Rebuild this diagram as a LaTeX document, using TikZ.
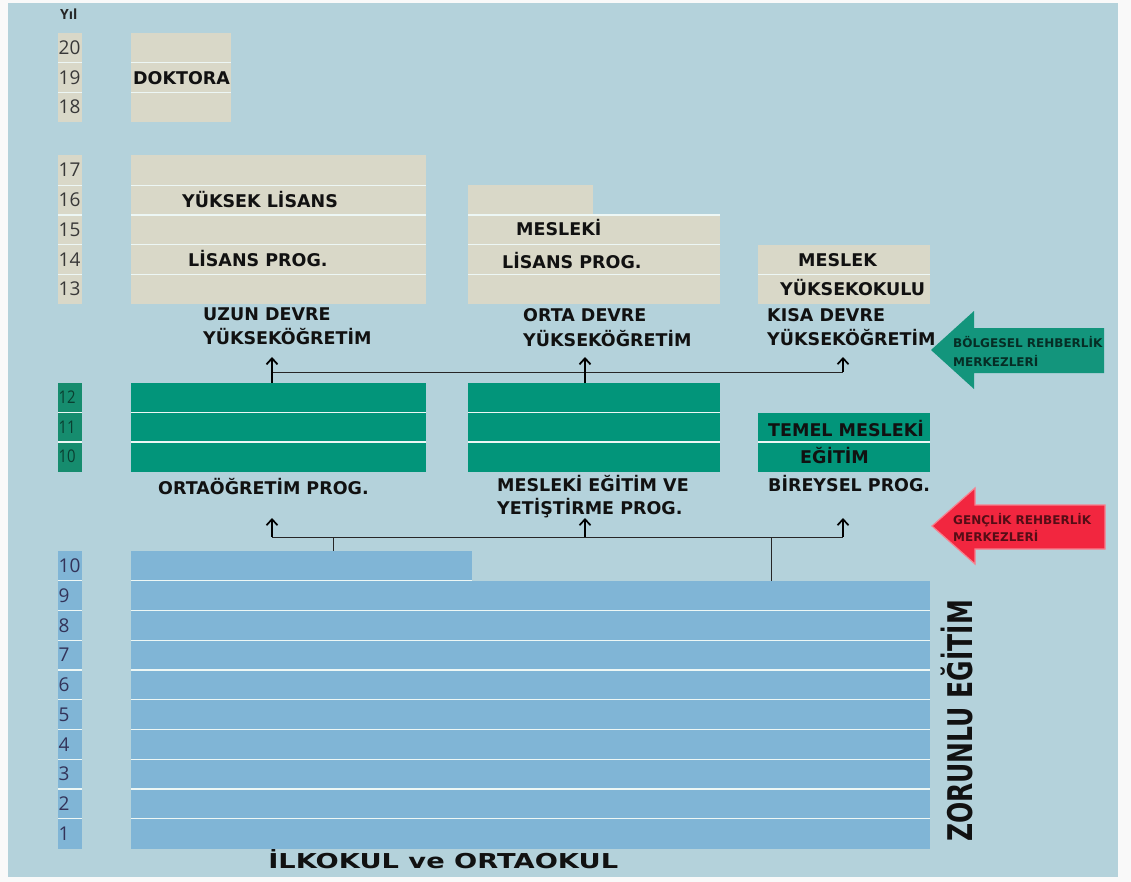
\documentclass[tikz,border=0pt]{standalone}
\usepackage{fontspec}
\setmainfont{DejaVu Sans}
\newfontfamily\yearfont{Open Sans}
\usetikzlibrary{arrows.meta,calc}
\definecolor{bgc}{HTML}{B4D2DB}
\definecolor{beige}{HTML}{D9D8C8}
\definecolor{grn}{HTML}{02957A}
\definecolor{grnyear}{HTML}{168C6E}
\definecolor{blu}{HTML}{80B5D6}
\definecolor{sepc}{HTML}{EDF7F5}
\definecolor{arrg}{HTML}{13957C}
\definecolor{arrr}{HTML}{F2263F}
\definecolor{arrrglow}{HTML}{F7808E}
\definecolor{txt}{HTML}{111111}
\tikzset{
  box/.style={inner sep=0pt, outer sep=0pt, anchor=north west},
  sepline/.style={draw=sepc, line width=1.3pt},
  lbl/.style={inner sep=0pt, anchor=west, text=txt, text height=12.8pt, text depth=0pt,
    font=\bfseries\fontsize{17.5}{17.5}\selectfont},
  small/.style={inner sep=0pt, anchor=west, text height=8.8pt, text depth=0pt,
    font=\bfseries\fontsize{12}{12}\selectfont},
  yr/.style={inner sep=0pt, anchor=west, text height=13.6pt, text depth=0pt, text=black!78,
    font=\yearfont\fontsize{19}{19}\selectfont},
  yrg/.style={inner sep=0pt, anchor=west, text height=12.5pt, text depth=0pt, text=grnyear!45!black,
    font=\yearfont\fontsize{17.5}{17.5}\selectfont},
  yrb/.style={inner sep=0pt, anchor=west, text height=13.6pt, text depth=0pt, text=black!75!blue!60!gray,
    font=\yearfont\fontsize{19}{19}\selectfont},
  thickarr/.style={line width=2.6pt, -{Straight Barb[length=6pt,width=11pt,line width=1.8pt]}},
  thinarr/.style={line width=1.4pt, -{Straight Barb[length=6pt,width=11pt,line width=1.7pt]}},
  conn/.style={line width=1pt, draw=black!85},
}
\begin{document}
\begin{tikzpicture}[x=1pt,y=-1pt]
\useasboundingbox (0,0) rectangle (1131,882);
\fill[white!95!gray] (0,0) rectangle (1131,882);
\fill[bgc] (8,3) rectangle (1118,877);

% ---------- year column ----------
\node[font=\yearfont\bfseries\fontsize{14}{14}\selectfont, text=black!85, inner sep=0pt, anchor=west] (yil) at (60,14) {Yıl};
\node[box, fill=beige, minimum width=24pt, minimum height=89pt] (yA) at (58,33) {};
\node[box, fill=beige, minimum width=24pt, minimum height=148.5pt] (yB) at (58,155.5) {};
\node[box, fill=grnyear, minimum width=24pt, minimum height=88.5pt] (yC) at (58,383) {};
\node[box, fill=blu, minimum width=24pt, minimum height=297.5pt] (yD) at (58,551) {};

% ---------- upper boxes ----------
\node[box, fill=beige, minimum width=100pt, minimum height=89pt] (dok) at (131,33) {};
\node[box, fill=beige, minimum width=295pt, minimum height=148.5pt] (yl) at (131,155.5) {};
\node[box, fill=beige, minimum width=125pt, minimum height=30pt] (mlTop) at (468,184.9) {};
\node[box, fill=beige, minimum width=252pt, minimum height=89.1pt] (ml) at (468,214.9) {};
\node[box, fill=beige, minimum width=172pt, minimum height=59.4pt] (myo) at (758,244.6) {};

% ---------- green boxes ----------
\node[box, fill=grn, minimum width=295pt, minimum height=88.5pt] (orta) at (131,383) {};
\node[box, fill=grn, minimum width=252pt, minimum height=88.5pt] (mesl) at (468,383) {};
\node[box, fill=grn, minimum width=172pt, minimum height=59pt] (temel) at (758,412.5) {};

% ---------- blue boxes ----------
\node[box, fill=blu, minimum width=341pt, minimum height=29.75pt] (b10) at (131,551) {};
\node[box, fill=blu, minimum width=799pt, minimum height=267.75pt] (b91) at (131,580.75) {};

% ---------- separators ----------
\foreach \y in {62.7,92.3} {
  \draw[sepline] (58,\y) -- (82,\y);
  \draw[sepline] (131,\y) -- (231,\y);
}
\foreach \y in {185.2,214.9,244.6,274.3} {
  \draw[sepline] (58,\y) -- (82,\y);
  \draw[sepline] (131,\y) -- (426,\y);
}
\draw[sepline] (468,214.9) -- (720,214.9);
\draw[sepline] (468,244.6) -- (720,244.6);
\draw[sepline] (468,274.3) -- (720,274.3);
\draw[sepline] (758,274.3) -- (930,274.3);
\foreach \y in {412.5,442} {
  \draw[sepline] (58,\y) -- (82,\y);
  \draw[sepline] (131,\y) -- (426,\y);
  \draw[sepline] (468,\y) -- (720,\y);
}
\draw[sepline] (758,442) -- (930,442);
\draw[sepline] (131,580.75) -- (472,580.75);
\draw[sepline] (58,580.75) -- (82,580.75);
\foreach \i in {2,...,9} {
  \pgfmathsetmacro\yy{551+29.75*\i}
  \draw[sepline] (58,\yy) -- (82,\yy);
  \draw[sepline] (131,\yy) -- (930,\yy);
}

% ---------- year numbers ----------
\foreach \n/\y in {20/48, 19/77.5, 18/107, 17/170, 16/200, 15/229.7, 14/259.4, 13/289} {
  \node[yr] (yr\n) at (58.5,\y) {\n};
}
\foreach \n/\y in {12/397.7, 11/427.2, 10/456.7} {
  \node[yrg, xscale=0.85] (yg\n) at (58.5,\y) {\n};
}
\foreach \n [evaluate=\n as \y using {551+29.75*(10-\n)+14.9}] in {10,9,...,1} {
  \node[yrb] (yb\n) at (58.5,\y) {\n};
}

% ---------- box texts ----------
\node[lbl] (tdok) at (133,78) {DOKTORA};
\node[lbl] (tyl) at (182,201) {YÜKSEK LİSANS};
\node[lbl] (tlis) at (188,260) {LİSANS PROG.};
\node[lbl] (tmes) at (516,229.5) {MESLEKİ};
\node[lbl] (tmlis) at (502,262) {LİSANS PROG.};
\node[lbl] (tmyo1) at (798,260) {MESLEK};
\node[lbl] (tmyo2) at (780,289) {YÜKSEKOKULU};

\node[lbl] (uz1) at (203,314) {UZUN DEVRE};
\node[lbl] (uz2) at (203,338) {YÜKSEKÖĞRETİM};
\node[lbl] (or1) at (523,315) {ORTA DEVRE};
\node[lbl] (or2) at (523,340) {YÜKSEKÖĞRETİM};
\node[lbl] (ks1) at (767,315) {KISA DEVRE};
\node[lbl] (ks2) at (767,339) {YÜKSEKÖĞRETİM};

\node[lbl] (tm1) at (768,430) {TEMEL MESLEKİ};
\node[lbl] (tm2) at (800,457) {EĞİTİM};

\node[lbl] (lo) at (158,488) {ORTAÖĞRETİM PROG.};
\node[lbl] (lm1) at (497,485) {MESLEKİ EĞİTİM VE};
\node[lbl] (lm2) at (497,508) {YETİŞTİRME PROG.};
\node[lbl] (lb) at (768,485) {BİREYSEL PROG.};

\node[inner sep=0pt, anchor=west, text=txt, text height=15pt, text depth=0pt, xscale=1.33,
  font=\bfseries\fontsize{20.5}{20.5}\selectfont] (ilk) at (268,861) {İLKOKUL ve ORTAOKUL};

\node[inner sep=0pt, rotate=90, text=txt, text height=25pt, text depth=0pt, xscale=0.735,
  font=\bfseries\fontsize{34}{34}\selectfont] (zor) at (959.5,721) {ZORUNLU EĞİTİM};

% ---------- upper connectors ----------
\coordinate (u1) at (272,357);
\coordinate (u2) at (585,357);
\coordinate (u3) at (843,357);
\coordinate (h1) at (272,372);
\coordinate (h3) at (843,372);
\draw[conn] (h1) -- (h3);
\draw[thickarr] (orta.north -| u1) -- (u1);
\draw[thickarr] (mesl.north -| u2) -- (u2);
\draw[thinarr] (h3) -- (u3);

% ---------- lower connectors ----------
\coordinate (l1) at (272,518);
\coordinate (l2) at (585,518);
\coordinate (l3) at (843,518);
\coordinate (g1) at (272,537);
\coordinate (g2) at (585,537);
\coordinate (g3) at (843,537);
\coordinate (d1) at (333,537);
\coordinate (d2) at (771,537);
\draw[conn] (g1) -- (g3);
\draw[thinarr] (g1) -- (l1);
\draw[thinarr] (g2) -- (l2);
\draw[thinarr] (g3) -- (l3);
\draw[conn] (d1) -- (d1 |- b10.north);
\draw[conn] (d2) -- (d2 |- b91.north);

% ---------- guidance arrows ----------
\fill[arrg] (931,350) -- (974,311) -- (974,328) -- (1104,328) -- (1104,373) -- (974,373) -- (974,389) -- cycle;
\node[small, text=arrg!30!black] (bg1) at (953,343) {BÖLGESEL REHBERLİK};
\node[small, text=arrg!30!black] (bg2) at (953,362) {MERKEZLERİ};

\filldraw[fill=arrr, draw=arrrglow, line width=1.2pt, line join=miter] (932,526) -- (975,488) -- (975,505) -- (1105,505) -- (1105,549) -- (975,549) -- (975,564) -- cycle;
\node[small, text=arrr!35!black] (gc1) at (953,520) {GENÇLİK REHBERLİK};
\node[small, text=arrr!35!black] (gc2) at (953,537) {MERKEZLERİ};
\end{tikzpicture}
\end{document}
